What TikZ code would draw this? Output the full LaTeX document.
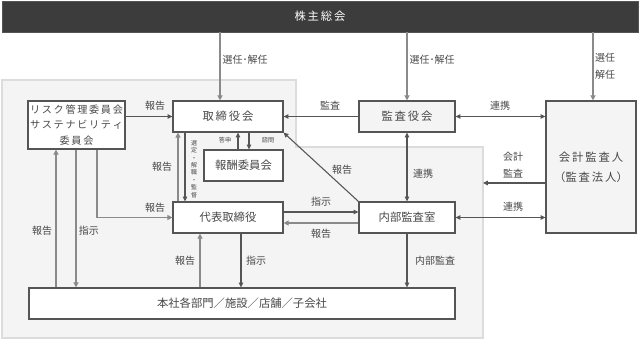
\documentclass[tikz,border=0pt]{standalone}
\usepackage{fontspec}
\setmainfont{Noto Sans CJK JP}
\usetikzlibrary{arrows.meta,calc}
\definecolor{panelfill}{HTML}{F4F4F4}
\definecolor{panelline}{HTML}{DCDCDC}
\definecolor{boxline}{HTML}{555555}
\definecolor{txt}{HTML}{484848}
\definecolor{lineA}{HTML}{555555}
\definecolor{lineB}{HTML}{8A8A8A}
\definecolor{topfill}{HTML}{3C3C3C}
\newcommand{\boxfont}{\fontsize{8.5}{10}\selectfont}
\newcommand{\labfont}{\fontsize{7.5}{9}\selectfont}
\newcommand{\tinyfont}{\fontsize{4.6}{5.6}\selectfont}
\begin{document}
\begin{tikzpicture}[x=0.75pt,y=-0.75pt,
  bx/.style n args={2}{minimum width=#1*0.75pt, minimum height=#2*0.75pt},
  box/.style={draw=boxline, line width=0.9pt, fill=white, inner sep=0pt, text=txt, font=\boxfont, align=center},
  graybox/.style={box, fill=panelfill},
  lab/.style={text=txt, font=\labfont, inner sep=0pt, align=center},
  tip/.style={-{Triangle[length=3.6pt,width=3.4pt]}},
  arr/.style={draw=lineA, line width=0.8pt, tip},
  arrg/.style={draw=lineB, line width=1.4pt, -{Triangle[length=3.8pt,width=3.8pt]}},
  darr/.style={draw=lineA, line width=0.8pt, {Triangle[length=3.6pt,width=3.4pt]}-{Triangle[length=3.6pt,width=3.4pt]}}
]
\useasboundingbox (0,0) rectangle (640,340);
% background panel
\filldraw[fill=panelfill, draw=panelline, line width=0.8pt]
  (2,80) -- (296,80) -- (296,147) -- (483,147) -- (483,338) -- (2,338) -- cycle;

% helper coordinates
\coordinate (x56) at (56,0);
\coordinate (x76) at (76,0);
\coordinate (x97) at (97,0);
\coordinate (x178) at (178,0);
\coordinate (x185) at (185,0);
\coordinate (x200) at (200,0);
\coordinate (x220) at (220,0);
\coordinate (x238) at (238,0);
\coordinate (x241) at (241,0);
\coordinate (x249) at (249,0);
\coordinate (x593) at (593,0);
\coordinate (y212) at (0,212);
\coordinate (y223) at (0,223);
\coordinate (pe) at (483,183);

% nodes
\node[draw=boxline, fill=topfill, text=white, inner sep=0pt, font=\boxfont, bx={636}{31}] (sh) at (320,16.5) {株\,主\,総\,会};
\node[box, bx={97}{48}, font=\fontsize{7.6}{11.5}\selectfont] (risk) at (76.5,125) {リ\,ス\,ク\,管\,理\,委\,員\,会\\サ\,ス\,テ\,ナ\,ビ\,リ\,テ\,ィ\\委\,員\,会};
\node[box, bx={110}{31}] (bod) at (228,116.5) {取\,締\,役\,会};
\node[box, bx={79}{31}] (comp) at (243.5,165.5) {報酬委員会};
\node[box, bx={110}{31}] (rep) at (228,217.5) {代表取締役};
\node[graybox, bx={96}{31}] (kan) at (407,116.5) {監\,査\,役\,会};
\node[graybox, bx={90}{132}, font=\fontsize{8.5}{15}\selectfont] (audit) at (591,167) {会\,計\,監\,査\,人\\（監\,査\,法\,人）};
\node[box, bx={96}{31}] (ia) at (407,217.5) {内部監査室};
\node[box, bx={426}{31}] (hq) at (242,303.5) {本社各部門／施設／店舗／子会社};

% connectors
\draw[arrg] (sh.south -| x220) -- (bod.north -| x220);
\draw[arrg] (sh.south -| kan.north) -- (kan.north);
\draw[arrg] (sh.south -| x593) -- (audit.north -| x593);
\draw[arr] (risk.east |- bod.west) -- (bod.west);
\draw[arr] (kan.west) -- (bod.east);
\draw[darr] (kan.east) -- (audit.west |- kan.east);
\draw[darr] (kan.south) -- (ia.north);
\draw[arr] (audit.west |- pe) -- (pe);
\draw[darr] (ia.east) -- (audit.west |- ia.east);
\draw[arr] (ia.north west) -- (bod.south east);
\draw[arr] (rep.east |- y212) -- (ia.west |- y212);
\draw[arrg] (ia.west |- y223) -- (rep.east |- y223);
\draw[arr] (ia.south) -- (hq.north -| ia.south);
\draw[arr] (rep.south -| x241) -- (hq.north -| x241);
\draw[arrg] (hq.north -| x200) -- (rep.south -| x200);
\draw[arr] (bod.south -| x185) -- (rep.north -| x185);
\draw[arrg] (rep.north -| x178) -- (bod.south -| x178);
\draw[arr] (comp.north -| x238) -- (bod.south -| x238);
\draw[arr] (bod.south -| x249) -- (comp.north -| x249);
\draw[arrg] (risk.south -| x97) |- (rep.west);
\draw[arrg] (risk.south -| x76) -- (hq.north -| x76);
\draw[arrg] (hq.north -| x56) -- (risk.south -| x56);

% labels
\node[lab] (l1) at (245,60) {選任･解任};
\node[lab] (l2) at (432,60) {選任･解任};
\node[lab, font=\fontsize{7.5}{12.75}\selectfont] (l3) at (605,66.5) {選任\\解任};
\node[lab] (l4) at (155,106) {報告};
\node[lab] (l5) at (330,106) {監査};
\node[lab] (l6) at (500,106) {連携};
\node[lab] (l7) at (423,174) {連携};
\node[lab, font=\fontsize{7.5}{12.75}\selectfont] (l8) at (513,165.5) {会計\\監査};
\node[lab] (l9) at (513,207) {連携};
\node[lab] (l10) at (342,170) {報告};
\node[lab] (l11) at (321,202) {指示};
\node[lab] (l12) at (321,234) {報告};
\node[lab] (l13) at (435,261) {内部監査};
\node[lab] (l14) at (256,261) {指示};
\node[lab] (l15) at (185,261) {報告};
\node[lab] (l16) at (162,167) {報告};
\node[lab] (l17) at (155,208) {報告};
\node[lab] (l18) at (89,231) {指示};
\node[lab] (l19) at (42,231) {報告};
\node[lab, font=\tinyfont] (l20) at (225,140) {答申};
\node[lab, font=\tinyfont] (l21) at (268,140) {諮問};
\node[lab, font=\fontsize{4.5}{5.6}\selectfont] (l22) at (194,169) {選\\定\\・\\解\\職\\・\\監\\督};
\end{tikzpicture}
\end{document}
